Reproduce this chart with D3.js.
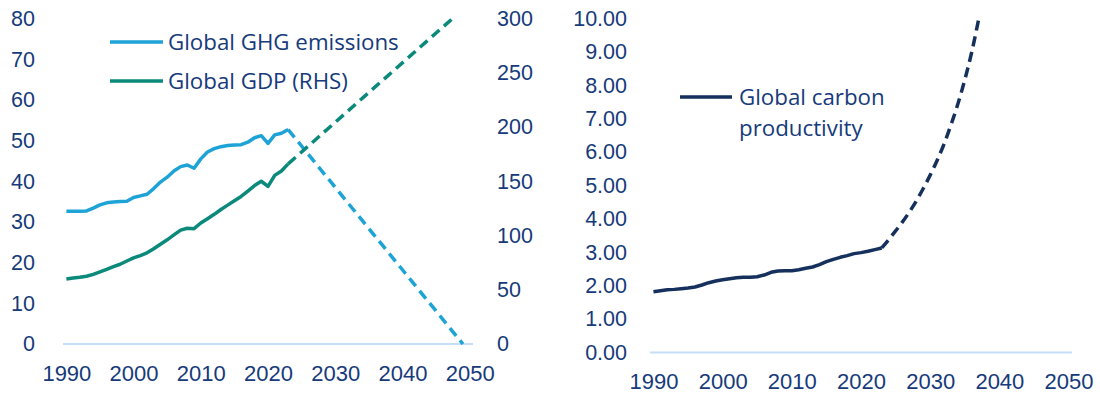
<!DOCTYPE html>
<html>
<head>
<meta charset="utf-8">
<script src="https://cdn.jsdelivr.net/npm/d3@7"></script>
<style>
  html, body { margin: 0; padding: 0; background: #ffffff; }
  svg { display: block; font-family: "Open Sans", "Noto Sans", sans-serif; }
  .tick text { fill: #163a7a; }
</style>
</head>
<body>
<svg id="chart" width="1100" height="399"></svg>
<script>
// Historical years (annual observations)
const years = d3.range(1990, 2024);

// Global GHG emissions, Gt CO2e (left axis)
const ghgEmissions = [
  32.6, 32.6, 32.6, 32.7, 33.4, 34.2, 34.7, 34.9, 35.0, 35.1,
  36.0, 36.4, 36.8, 38.2, 39.8, 41.0, 42.5, 43.6, 44.0, 43.2,
  45.5, 47.2, 48.0, 48.5, 48.8, 48.9, 49.0, 49.6, 50.7, 51.2,
  49.3, 51.4, 51.8, 52.7
];

// Global GDP (right-hand axis)
const globalGdp = [
  60.0, 60.8, 61.5, 62.5, 64.2, 66.5, 68.8, 71.3, 73.5, 76.5,
  79.4, 81.5, 84.0, 87.8, 92.0, 96.0, 100.5, 105.0, 106.7, 106.3,
  111.5, 115.5, 119.5, 124.0, 128.0, 132.0, 136.0, 141.0, 146.0, 150.0,
  145.2, 155.4, 159.5, 166.0
];

// Global carbon productivity (GDP per unit of emissions)
const carbonProductivity = [
  1.82, 1.85, 1.88, 1.89, 1.91, 1.93, 1.96, 2.02, 2.09, 2.14,
  2.18, 2.21, 2.24, 2.25, 2.25, 2.27, 2.32, 2.40, 2.44, 2.45,
  2.45, 2.48, 2.52, 2.56, 2.63, 2.72, 2.79, 2.85, 2.90, 2.96,
  2.99, 3.03, 3.08, 3.13
];

// Net-zero pathway projections
const ghgPathYears = [2023, 2049];
const ghgPathValues = [52.7, 0];
const gdpPathYears = [2023, 2048];
const gdpPathValues = [166, 303];
const productivityPathYears = [2023, 2024, 2025, 2026, 2027, 2028, 2029, 2030,
  2031, 2032, 2033, 2034, 2035, 2036, 2037];
const productivityPathValues = [3.13, 3.38, 3.64, 3.91, 4.21, 4.54, 4.91, 5.31,
  5.75, 6.24, 6.81, 7.44, 8.16, 8.99, 9.97];

// Axis ticks and legend labels
const yearTicks = [1990, 2000, 2010, 2020, 2030, 2040, 2050];
const emissionsTicks = [0, 10, 20, 30, 40, 50, 60, 70, 80];
const gdpTicks = [0, 50, 100, 150, 200, 250, 300];
const productivityTicks = [0, 1, 2, 3, 4, 5, 6, 7, 8, 9, 10];
const leftLegend = ["Global GHG emissions", "Global GDP (RHS)"];
const rightLegend = ["Global carbon", "productivity"];

const colors = {
  ghg: "#1ea3d6",
  gdp: "#0b8a7c",
  prod: "#15305c",
  text: "#163a7a",
  base: "#c6ddf7"
};

const valueFont = 21.5;
const yearFont = 22;
const legendFont = 22.3;

const svg = d3.select("#chart");

function styleAxis(g, size) {
  g.select(".domain").remove();
  g.selectAll(".tick line").remove();
  g.selectAll(".tick text").attr("font-size", size);
}

// ---------- Left panel: emissions vs GDP ----------
const L = { x0: 63, x1: 473, yTop: 18.5, yBase: 344 };
const xL = d3.scaleLinear().domain([1989.5, 2050.5]).range([L.x0, L.x1]);
const yEm = d3.scaleLinear().domain([0, 80]).range([L.yBase, L.yTop]);
const yGdp = d3.scaleLinear().domain([0, 300]).range([L.yBase, L.yTop]);

svg.append("defs").append("clipPath").attr("id", "clipL")
  .append("rect").attr("x", L.x0 - 5).attr("y", L.yTop - 1)
  .attr("width", L.x1 - L.x0 + 10).attr("height", L.yBase - L.yTop + 4);

const gL = svg.append("g");

gL.append("g").attr("transform", `translate(35,0)`)
  .call(d3.axisLeft(yEm).tickValues(emissionsTicks).tickSize(0).tickPadding(0))
  .call(g => styleAxis(g, valueFont));

gL.append("g").attr("transform", `translate(497,0)`)
  .call(d3.axisRight(yGdp).tickValues(gdpTicks).tickSize(0).tickPadding(0))
  .call(g => styleAxis(g, valueFont));

gL.append("g").attr("transform", `translate(0,${L.yBase + 20})`)
  .call(d3.axisBottom(xL).tickValues(yearTicks).tickFormat(d3.format("d")).tickSize(0).tickPadding(0))
  .call(g => styleAxis(g, yearFont))
  .call(g => g.selectAll(".tick text").attr("dy", "0.75em"));

gL.append("line")
  .attr("x1", L.x0).attr("x2", L.x1)
  .attr("y1", L.yBase).attr("y2", L.yBase)
  .attr("stroke", colors.base).attr("stroke-width", 2);

const lineEm = d3.line().x((d, i) => xL(years[i])).y(d => yEm(d));
const lineGdp = d3.line().x((d, i) => xL(years[i])).y(d => yGdp(d));

const plotL = gL.append("g").attr("clip-path", "url(#clipL)");

plotL.append("path").datum(ghgPathValues)
  .attr("d", d3.line().x((d, i) => xL(ghgPathYears[i])).y(d => yEm(d)))
  .attr("fill", "none").attr("stroke", colors.ghg)
  .attr("stroke-width", 3.5).attr("stroke-dasharray", "10,6");

plotL.append("path").datum(gdpPathValues)
  .attr("d", d3.line().x((d, i) => xL(gdpPathYears[i])).y(d => yGdp(d)))
  .attr("fill", "none").attr("stroke", colors.gdp)
  .attr("stroke-width", 3.5).attr("stroke-dasharray", "10,6");

plotL.append("path").datum(globalGdp).attr("d", lineGdp)
  .attr("fill", "none").attr("stroke", colors.gdp)
  .attr("stroke-width", 3.5).attr("stroke-linejoin", "round");

plotL.append("path").datum(ghgEmissions).attr("d", lineEm)
  .attr("fill", "none").attr("stroke", colors.ghg)
  .attr("stroke-width", 3.5).attr("stroke-linejoin", "round");

// legend
const legL = gL.append("g");
[colors.ghg, colors.gdp].forEach((c, i) => {
  const y = 42 + i * 39;
  legL.append("line").attr("x1", 110).attr("x2", 163).attr("y1", y).attr("y2", y)
    .attr("stroke", c).attr("stroke-width", 3.5);
  legL.append("text").attr("x", 168).attr("y", y).attr("dy", "0.35em")
    .attr("font-size", legendFont).attr("fill", colors.text).text(leftLegend[i]);
});

// ---------- Right panel: carbon productivity ----------
const R = { x0: 650, x1: 1072, yTop: 18.5, yBase: 352.5 };
const xR = d3.scaleLinear().domain([1989.5, 2050.5]).range([R.x0, R.x1]);
const yP = d3.scaleLinear().domain([0, 10]).range([R.yBase, R.yTop]);

const gR = svg.append("g");

gR.append("g").attr("transform", `translate(627,0)`)
  .call(d3.axisLeft(yP).tickValues(productivityTicks).tickFormat(d3.format(".2f")).tickSize(0).tickPadding(0))
  .call(g => styleAxis(g, valueFont));

gR.append("g").attr("transform", `translate(0,${R.yBase + 20})`)
  .call(d3.axisBottom(xR).tickValues(yearTicks).tickFormat(d3.format("d")).tickSize(0).tickPadding(0))
  .call(g => styleAxis(g, yearFont))
  .call(g => g.selectAll(".tick text").attr("dy", "0.75em"));

gR.append("line")
  .attr("x1", R.x0).attr("x2", R.x1)
  .attr("y1", R.yBase).attr("y2", R.yBase)
  .attr("stroke", colors.base).attr("stroke-width", 2);

gR.append("path").datum(productivityPathValues)
  .attr("d", d3.line().x((d, i) => xR(productivityPathYears[i])).y(d => yP(d)).curve(d3.curveMonotoneX))
  .attr("fill", "none").attr("stroke", colors.prod)
  .attr("stroke-width", 3.5).attr("stroke-dasharray", "10,6");

gR.append("path").datum(carbonProductivity)
  .attr("d", d3.line().x((d, i) => xR(years[i])).y(d => yP(d)))
  .attr("fill", "none").attr("stroke", colors.prod)
  .attr("stroke-width", 3.5).attr("stroke-linejoin", "round");

gR.append("line").attr("x1", 680).attr("x2", 732).attr("y1", 97).attr("y2", 97)
  .attr("stroke", colors.prod).attr("stroke-width", 3.5);
rightLegend.forEach((t, i) => {
  gR.append("text").attr("x", 739).attr("y", 97 + i * 31).attr("dy", "0.35em")
    .attr("font-size", legendFont).attr("fill", colors.text).text(t);
});
</script>
</body>
</html>
